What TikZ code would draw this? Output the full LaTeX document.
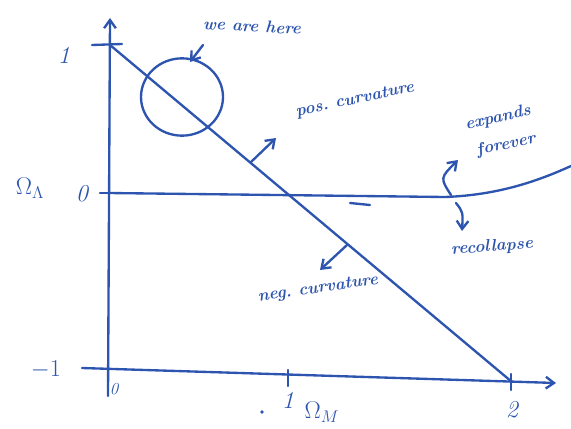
\documentclass[tikz,border=0pt]{standalone}
\usetikzlibrary{arrows.meta,shapes.geometric}
\definecolor{ink}{RGB}{45,85,175}
\begin{document}
\begin{tikzpicture}[x=0.03cm,y=-0.03cm,
  pen/.style={draw=ink,line width=2pt,line cap=round},
  lbl/.style={text=ink,font=\huge\itshape},
  hand/.style={text=ink,font=\Large\bfseries\itshape},
  tip/.style={-{Straight Barb[length=7pt,width=10pt,line width=2pt]}}]
\useasboundingbox (0,0) rectangle (571,429);
% axes
\coordinate (yb) at (108,396);
\coordinate (yt) at (110,18);
\coordinate (xl) at (82,368);
\coordinate (xr) at (556,383);
\draw[pen,tip] (yb) -- (yt);
\draw[pen,tip] (xl) -- (xr);
% ticks
\coordinate (t1a) at (92,45); \coordinate (t1b) at (122,44);
\draw[pen] (t1a) -- (t1b);
\coordinate (t0a) at (100,193); \coordinate (t0b) at (116,193);
\draw[pen] (t0a) -- (t0b);
\coordinate (tm1a) at (288,370); \coordinate (tm1b) at (288,386);
\draw[pen] (tm1a) -- (tm1b);
\coordinate (tm2a) at (511,374); \coordinate (tm2b) at (511,390);
\draw[pen] (tm2a) -- (tm2b);
% labels
\node[lbl] (l1) at (64,55) {1};
\node[lbl] (lOL) at (30,188) {$\Omega_\Lambda$};
\node[lbl] (l0) at (82,194) {0};
\node[lbl] (lm1) at (46,370) {$-1$};
\node[lbl,font=\Large\itshape] (lx0) at (114,389) {0};
\node[lbl] (lx1) at (288,400) {1};
\node[lbl] (lx2) at (512,410) {2};
\node[lbl] (lOM) at (322,412) {$\Omega_M$};
\node[circle,fill=ink,inner sep=1.2pt] (dot) at (262,412) {};
% diagonal flat line
\coordinate (d1) at (110,45);
\coordinate (d2) at (512,382);
\draw[pen] (d1) -- (d2);
% Omega_Lambda = 0 line bending upward
\coordinate (h0) at (108,193);
\coordinate (h1) at (445,197);
\coordinate (h2) at (571,166);
\draw[pen] (h0) -- (h1) .. controls (500,195) and (540,180) .. (h2);
\coordinate (s1) at (350,203); \coordinate (s2) at (370,205);
\draw[pen] (s1) -- (s2);
% circle
\node[draw=ink,line width=2pt,ellipse,minimum width=70pt,minimum height=66pt,inner sep=0pt] (here) at (182,97) {};
\node[hand,rotate=-3] (wah) at (252,26) {we are here};
\coordinate (wa1) at (203,45); \coordinate (wa2) at (190,62);
\draw[pen,tip] (wa1) -- (wa2);
% pos curvature
\node[hand,rotate=12] (pos) at (355,100) {pos.\ curvature};
\coordinate (pa1) at (251,162); \coordinate (pa2) at (276,138);
\draw[pen,tip] (pa1) -- (pa2);
% neg curvature
\node[hand,rotate=8] (neg) at (318,289) {neg.\ curvature};
\coordinate (na1) at (347,245); \coordinate (na2) at (320,270);
\draw[pen,tip] (na1) -- (na2);
% expands forever
\node[hand,rotate=12] (exp1) at (498,118) {expands};
\node[hand,rotate=12] (exp2) at (506,145) {forever};
\coordinate (ea1) at (451,195); \coordinate (ea2) at (458,160);
\draw[pen,tip] (ea1) .. controls (440,178) .. (ea2);
% recollapse
\node[hand,rotate=4] (rec) at (492,247) {recollapse};
\coordinate (ra1) at (456,203); \coordinate (ra2) at (462,231);
\draw[pen,tip] (ra1) .. controls (463,212) .. (ra2);
\end{tikzpicture}
\end{document}
